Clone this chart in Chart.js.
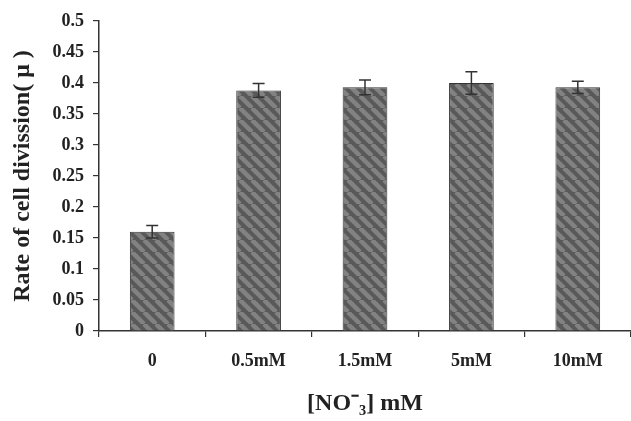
<!DOCTYPE html>
<html>
<head>
<meta charset="utf-8">
<script src="https://cdn.jsdelivr.net/npm/chart.js@4/dist/chart.umd.min.js"></script>
<style>
html,body{margin:0;padding:0;background:#fff;}
#wrap{width:631px;height:421px;position:relative;}
</style>
</head>
<body>
<div id="wrap"><canvas id="c" width="631" height="421"></canvas></div>
<script>
const categories = ["0", "0.5mM", "1.5mM", "5mM", "10mM"];
const rates = [0.160, 0.388, 0.393, 0.400, 0.393];
const errors = [0.010, 0.011, 0.012, 0.018, 0.010];
const yTickMin = 0, yTickMax = 0.5, yTickStep = 0.05;

function makePattern() {
  const s = 12;
  const pc = document.createElement('canvas');
  pc.width = s; pc.height = s;
  const g = pc.getContext('2d');
  g.fillStyle = '#595959';
  g.fillRect(0, 0, s, s);
  g.strokeStyle = '#828282';
  g.lineWidth = 4.5;
  for (let k = -1; k <= 1; k++) {
    g.beginPath();
    g.moveTo(k * s, 0);
    g.lineTo(k * s + s, s);
    g.stroke();
  }
  return g.createPattern(pc, 'repeat');
}

const errorBars = {
  id: 'errorBars',
  afterDatasetsDraw(chart) {
    const ctx = chart.ctx;
    const y = chart.scales.y;
    const meta = chart.getDatasetMeta(0);
    ctx.save();
    ctx.strokeStyle = '#333';
    ctx.lineWidth = 1.5;
    meta.data.forEach((bar, i) => {
      const v = rates[i], e = errors[i];
      const yt = y.getPixelForValue(v + e);
      const yb = y.getPixelForValue(v - e);
      const x = bar.x;
      ctx.beginPath();
      ctx.moveTo(x, yt); ctx.lineTo(x, yb);
      ctx.moveTo(x - 6, yt); ctx.lineTo(x + 6, yt);
      ctx.moveTo(x - 6, yb); ctx.lineTo(x + 6, yb);
      ctx.stroke();
    });
    ctx.restore();
  }
};

const serif = "'Liberation Serif', 'Times New Roman', serif";

new Chart(document.getElementById('c'), {
  type: 'bar',
  data: {
    labels: categories,
    datasets: [{
      data: rates,
      backgroundColor: makePattern(),
      borderColor: '#333',
      borderWidth: 1,
      categoryPercentage: 1.0,
      barPercentage: 0.42
    }]
  },
  options: {
    responsive: false,
    animation: false,
    devicePixelRatio: 1,
    layout: { padding: { top: 21, right: 0, left: 0, bottom: 0 } },
    plugins: { legend: { display: false }, tooltip: { enabled: false } },
    scales: {
      x: {
        grid: { display: true, offset: true, drawOnChartArea: false, drawTicks: true, tickLength: 6, color: '#333', lineWidth: 1.2 },
        border: { display: true, color: '#333', width: 1.5 },
        ticks: { color: '#222', padding: 14, font: { family: serif, size: 18, weight: 'bold' } },
        title: { display: true, text: '[NO\u207B\u2083] mM', color: '#222', font: { family: serif, size: 24, weight: 'bold' }, padding: { top: 0, bottom: 3 } },
        afterFit(axis) { axis.height = 90; }
      },
      y: {
        min: yTickMin, max: yTickMax,
        grid: { display: true, drawOnChartArea: false, drawTicks: true, tickLength: 6, color: '#333', lineWidth: 1.2 },
        border: { display: true, color: '#333', width: 1.5 },
        ticks: { stepSize: yTickStep, color: '#222', padding: 9, font: { family: serif, size: 18, weight: 'bold' },
          callback: (v) => String(Math.round(v * 100) / 100) },
        title: { display: true, text: 'Rate of cell divission( \u03BC )', color: '#222', font: { family: serif, size: 24, weight: 'bold' }, padding: { top: 8, bottom: 4 } },
        afterFit(axis) { axis.width = 99; }
      }
    }
  },
  plugins: [errorBars]
});
</script>
</body>
</html>
